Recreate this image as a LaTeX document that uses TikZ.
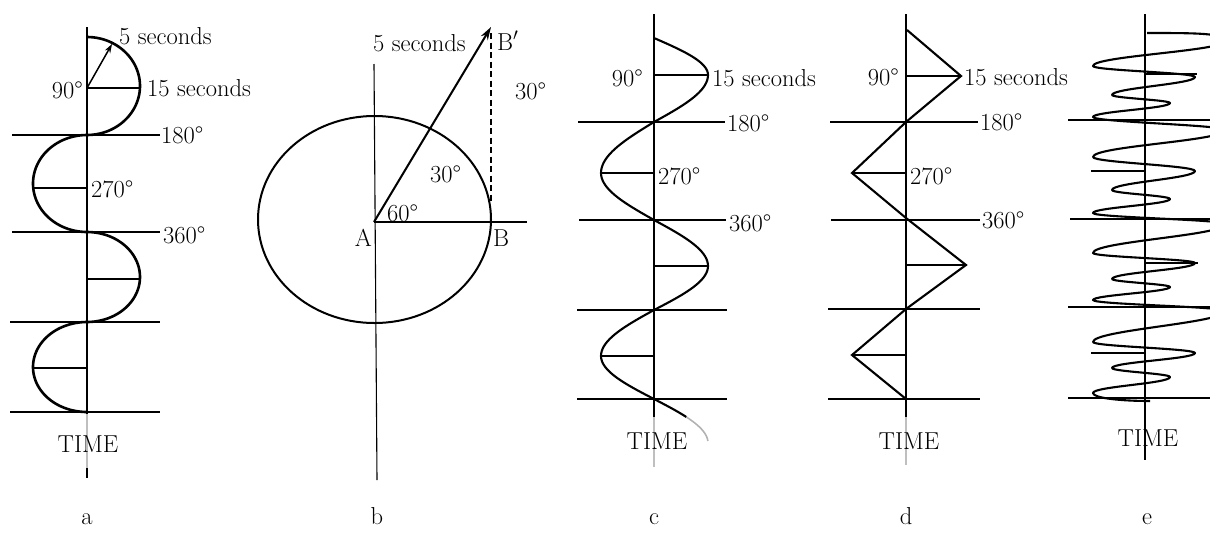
\documentclass[tikz,border=0pt]{standalone}
\usetikzlibrary{arrows.meta}
\begin{document}
\begin{tikzpicture}[x=1pt,y=-1pt,
  lbl/.style={inner sep=0pt,font=\fontsize{24.5}{28}\selectfont},
  axisline/.style={line width=1.3pt},
  guide/.style={line width=1.2pt},
  wave/.style={line width=2.1pt,line join=round},
  faded/.style={line width=1.3pt,black!25},
]
\useasboundingbox (0,0) rectangle (1210,536);
\clip (0,0) rectangle (1210,536);

% ---------------- panel a ----------------
\coordinate (aT) at (87,27);
\coordinate (aG1) at (87,414);
\coordinate (aG2) at (87,468);
\coordinate (aB) at (87,478);
\draw[axisline] (aT) -- (aG1);
\draw[faded] (aG1) -- (aG2);
\draw[axisline] (aG2) -- (aB);
\draw[guide] (87,88) -- (140,88);
\draw[guide] (12,135) -- (160,135);
\draw[guide] (33,188) -- (87,188);
\draw[guide] (12,232) -- (160,232);
\draw[guide] (87,279) -- (140,279);
\draw[guide] (10,322) -- (160,322);
\draw[guide] (33,368) -- (87,368);
\draw[guide] (10,412) -- (160,412);
\draw[line width=2.6pt]
  plot[domain=-90:90,samples=60] ({87+53*cos(\x)},{86+49*sin(\x)})
  -- plot[domain=-90:90,samples=60] ({87-54*cos(\x)},{183.5+48.5*sin(\x)})
  -- plot[domain=-90:90,samples=60] ({87+53*cos(\x)},{277+45*sin(\x)})
  -- plot[domain=-90:90,samples=60] ({87-54*cos(\x)},{367+45*sin(\x)});
\coordinate (aO) at (87,88);
\coordinate (aTip) at (112,44);
\draw[line width=1.5pt,-{Stealth[length=9pt,width=6pt]}] (aO) -- (aTip);
\node[lbl,anchor=base west] (a5s) at (119,44) {5 seconds};
\node[lbl,anchor=base west] (a15s) at (147,96) {15 seconds};
\node[lbl,anchor=base east] (a90) at (83,98) {90°};
\node[lbl,anchor=base west] (a180) at (161,143) {180°};
\node[lbl,anchor=base west] (a270) at (91,197) {270°};
\node[lbl,anchor=base west] (a360) at (163,243) {360°};
\node[lbl,anchor=base] (aTime) at (88,452) {TIME};
\node[lbl,anchor=base] (aLab) at (87,524) {a};

% ---------------- panel b ----------------
\coordinate (bTop) at (374,64);
\coordinate (bBot) at (377,480);
\draw[line width=1.1pt] (bTop) -- (bBot);
\draw[line width=2pt] (374.5,219.5) ellipse [x radius=116.5, y radius=103.5];
\coordinate (bA) at (374,222);
\coordinate (bEnd) at (527,222);
\coordinate (bBp) at (491,27);
\coordinate (bD1) at (491,33);
\coordinate (bD2) at (491,202);
\draw[guide] (bA) -- (bEnd);
\draw[line width=2pt,-{Stealth[length=13pt,width=8pt]}] (bA) -- (bBp);
\draw[line width=1.1pt,dash pattern=on 6pt off 3.5pt] (bD1) -- (bD2);
\node[lbl,anchor=base west] (b5s) at (373,51) {5 seconds};
\node[lbl,anchor=base west] (bBpl) at (497,50) {B$'$};
\node[lbl,anchor=base west] (b30a) at (515,99) {30°};
\node[lbl,anchor=base west] (b30b) at (430,182) {30°};
\node[lbl,anchor=base west] (b60) at (387,221) {60°};
\node[lbl,anchor=base east] (bAl) at (372,246) {A};
\node[lbl,anchor=base west] (bBl) at (493,246) {B};
\node[lbl,anchor=base] (bLab) at (377,524) {b};

% ---------------- panel c ----------------
\coordinate (cT) at (654,14);
\coordinate (cG1) at (654,417);
\coordinate (cG2) at (654,467);
\draw[axisline] (cT) -- (cG1);
\draw[faded] (cG1) -- (cG2);
\draw[guide] (654,75) -- (708,75);
\draw[guide] (578,122) -- (725,122);
\draw[guide] (601,173) -- (654,173);
\draw[guide] (579,220) -- (726,220);
\draw[guide] (654,266) -- (708,266);
\draw[guide] (577,310) -- (727,310);
\draw[guide] (601,356) -- (654,356);
\draw[guide] (577,399) -- (727,399);
\draw[wave]
  plot[domain=38:75,samples=20] ({654+54*sin((\x-38)/37*90)},\x)
  -- plot[domain=75:122,samples=20] ({654+54*cos((\x-75)/47*90)},\x)
  -- plot[domain=122:173,samples=20] ({654-53*sin((\x-122)/51*90)},\x)
  -- plot[domain=173:220,samples=20] ({654-53*cos((\x-173)/47*90)},\x)
  -- plot[domain=220:266,samples=20] ({654+54*sin((\x-220)/46*90)},\x)
  -- plot[domain=266:310,samples=20] ({654+54*cos((\x-266)/44*90)},\x)
  -- plot[domain=310:356,samples=20] ({654-53*sin((\x-310)/46*90)},\x)
  -- plot[domain=356:399,samples=20] ({654-53*cos((\x-356)/43*90)},\x)
  -- plot[domain=399:417,samples=10] ({654+54*sin((\x-399)/44*90)},\x);
\draw[line width=1.6pt,black!30] plot[domain=417:441,samples=15] ({654+54*sin((\x-399)/44*90)},\x);
\node[lbl,anchor=base east] (c90) at (643,86) {90°};
\node[lbl,anchor=base west] (c15s) at (712,86) {15 seconds};
\node[lbl,anchor=base west] (c180) at (727,131) {180°};
\node[lbl,anchor=base west] (c270) at (658,184) {270°};
\node[lbl,anchor=base west] (c360) at (729,231) {360°};
\node[lbl,anchor=base] (cTime) at (657,449) {TIME};
\node[lbl,anchor=base] (cLab) at (654,524) {c};

% ---------------- panel d ----------------
\coordinate (dT) at (906,14);
\coordinate (dG1) at (906,417);
\coordinate (dG2) at (906,465);
\draw[axisline] (dT) -- (dG1);
\draw[faded] (dG1) -- (dG2);
\draw[guide] (906,76) -- (961,76);
\draw[guide] (830,122) -- (978,122);
\draw[guide] (852,173) -- (906,173);
\draw[guide] (831,220) -- (980,220);
\draw[guide] (906,265) -- (966,265);
\draw[guide] (828,309) -- (980,309);
\draw[guide] (852,355) -- (906,355);
\draw[guide] (828,399) -- (980,399);
\draw[wave,line join=miter] (907,30) -- (961,76) -- (906,122) -- (852,173) -- (906,218)
  -- (966,265) -- (906,309) -- (852,355) -- (906,399);
\node[lbl,anchor=base east] (d90) at (899,85) {90°};
\node[lbl,anchor=base west] (d15s) at (964,85) {15 seconds};
\node[lbl,anchor=base west] (d180) at (980,130) {180°};
\node[lbl,anchor=base west] (d270) at (910,184) {270°};
\node[lbl,anchor=base west] (d360) at (982,228) {360°};
\node[lbl,anchor=base] (dTime) at (909,449) {TIME};
\node[lbl,anchor=base] (dLab) at (906,524) {d};

% ---------------- panel e ----------------
\coordinate (eT) at (1145,14);
\coordinate (eB) at (1145,460);
\draw[axisline] (eT) -- (eB);
\draw[guide] (1068,120) -- (1210,120);
\draw[guide] (1070,219) -- (1210,219);
\draw[guide] (1068,307) -- (1210,307);
\draw[guide] (1068,398) -- (1210,398);
\draw[guide] (1091,171) -- (1145,171);
\draw[guide] (1091,353) -- (1145,353);
\draw[guide] (1145,74) -- (1197,74);
\draw[guide] (1145,263) -- (1198,263);
\draw[wave] (1147,33) .. controls (1195,33) and (1225,33) .. (1225,41)
 .. controls +(0,10) and +(0,-10) .. (1093,66)
 .. controls +(0,4.5) and +(0,-4.5) .. (1195,77)
 .. controls +(0,7) and +(0,-7) .. (1112,95)
 .. controls +(0,3) and +(0,-3) .. (1170,103)
 .. controls +(0,5.5) and +(0,-5.5) .. (1093,117)
 .. controls +(0,5) and +(0,-5) .. (1225,130)
 .. controls +(0,11) and +(0,-11) .. (1093,157)
 .. controls +(0,5.5) and +(0,-5.5) .. (1195,171)
 .. controls +(0,7.5) and +(0,-7.5) .. (1112,190)
 .. controls +(0,3.5) and +(0,-3.5) .. (1170,199)
 .. controls +(0,5.5) and +(0,-5.5) .. (1093,213)
 .. controls +(0,4.5) and +(0,-4.5) .. (1225,224)
 .. controls +(0,11.5) and +(0,-11.5) .. (1093,253)
 .. controls +(0,4) and +(0,-4) .. (1195,263)
 .. controls +(0,6.5) and +(0,-6.5) .. (1112,279)
 .. controls +(0,3) and +(0,-3) .. (1170,287)
 .. controls +(0,5) and +(0,-5) .. (1093,300)
 .. controls +(0,4.5) and +(0,-4.5) .. (1225,311)
 .. controls +(0,12) and +(0,-12) .. (1093,342)
 .. controls +(0,4.5) and +(0,-4.5) .. (1195,353)
 .. controls +(0,6) and +(0,-6) .. (1112,368)
 .. controls +(0,3.5) and +(0,-3.5) .. (1170,377)
 .. controls +(0,6.5) and +(0,-6.5) .. (1093,393)
 .. controls (1093,398) and (1120,401) .. (1150,401);
\node[lbl,anchor=base] (eTime) at (1148,446) {TIME};
\node[lbl,anchor=base] (eLab) at (1147,524) {e};
\end{tikzpicture}
\end{document}
